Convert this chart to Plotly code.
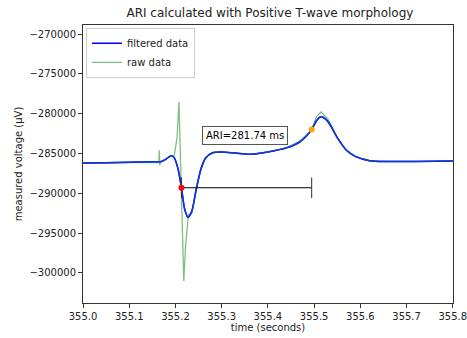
import plotly.graph_objects as go

# Filtered signal samples (time in s, voltage in µV)
filt_t = [355.00, 355.05, 355.10, 355.15, 355.17, 355.18, 355.19, 355.197, 355.205,
          355.213, 355.22, 355.227, 355.235, 355.245, 355.255, 355.265, 355.28, 355.30,
          355.33, 355.36, 355.40, 355.44, 355.47, 355.4947, 355.505, 355.515, 355.53,
          355.55, 355.57, 355.59, 355.62, 355.66, 355.72, 355.80]
filt_v = [-286200, -286150, -286100, -286050, -286000, -285700, -285300, -285500, -286800,
          -289300, -292000, -293000, -292300, -289500, -287000, -285600, -284900, -284800,
          -284950, -285100, -284800, -284300, -283500, -282000, -280900, -280400, -281000,
          -283000, -284600, -285400, -285900, -286000, -286000, -285950]

# Raw signal samples, including stimulus artifact and depolarisation spike
raw_t = [355.00, 355.05, 355.10, 355.15, 355.164, 355.165, 355.166, 355.167, 355.17,
         355.18, 355.19, 355.197, 355.2035, 355.2076, 355.212, 355.218, 355.222,
         355.228, 355.235, 355.245, 355.255, 355.265, 355.28, 355.30, 355.33, 355.36,
         355.40, 355.44, 355.47, 355.4947, 355.505, 355.515, 355.53, 355.55, 355.57,
         355.59, 355.62, 355.66, 355.72, 355.80]
raw_v = [-286200, -286150, -286100, -286050, -286100, -284600, -286500, -286200, -286000,
         -285700, -285300, -285400, -283000, -278500, -288000, -301000, -296500,
         -292700, -292600, -289300, -286800, -285500, -284900, -284800, -284950, -285100,
         -284800, -284300, -283400, -282000, -280400, -279800, -280700, -283000, -284600,
         -285400, -285900, -286000, -286000, -285950]

# Activation / repolarisation markers and the ARI interval
act_t, act_v = 355.213, -289300
rep_t, rep_v = 355.4947, -282000
ari_ms = 281.74
cap_half = 1300

fig = go.Figure()
fig.add_trace(go.Scatter(x=filt_t, y=filt_v, mode="lines", name="filtered data",
                         line=dict(color="#0000ff", width=1.5, shape="spline", smoothing=0.8)))
fig.add_trace(go.Scatter(x=raw_t, y=raw_v, mode="lines", name="raw data",
                         line=dict(color="rgba(0,128,0,0.5)", width=1.3)))
# Re-draw filtered on top so it sits above the raw trace
fig.add_trace(go.Scatter(x=filt_t, y=filt_v, mode="lines", showlegend=False, hoverinfo="skip",
                         line=dict(color="rgba(20,50,230,0.85)", width=1.5, shape="spline", smoothing=0.8)))

# ARI bar with end caps
fig.add_trace(go.Scatter(x=[act_t, rep_t], y=[act_v, act_v], mode="lines", showlegend=False,
                         line=dict(color="black", width=1)))
for t in (act_t, rep_t):
    fig.add_trace(go.Scatter(x=[t, t], y=[act_v - cap_half, act_v + cap_half], mode="lines",
                             showlegend=False, line=dict(color="#333333", width=1)))

fig.add_trace(go.Scatter(x=[act_t], y=[act_v], mode="markers", showlegend=False,
                         marker=dict(color="red", size=6)))
fig.add_trace(go.Scatter(x=[rep_t], y=[rep_v], mode="markers", showlegend=False,
                         marker=dict(color="orange", size=6)))

fig.add_annotation(x=355.35, y=-282700, text=f"ARI={ari_ms:.2f} ms", showarrow=False,
                   font=dict(size=10, color="black", family="DejaVu Sans"),
                   bordercolor="#555555", borderwidth=1, borderpad=3, bgcolor="white")

tickvals = [-270000, -275000, -280000, -285000, -290000, -295000, -300000]
ticktext = ["\u2212" + str(abs(v)) for v in tickvals]
xticks = [355.0, 355.1, 355.2, 355.3, 355.4, 355.5, 355.6, 355.7, 355.8]

fig.update_layout(
    width=467, height=338,
    margin=dict(l=83, r=14, t=25, b=35),
    paper_bgcolor="white", plot_bgcolor="white",
    font=dict(family="DejaVu Sans", size=10, color="#222222"),
    title=dict(text="ARI calculated with Positive T-wave morphology", x=0.578, xanchor="center",
               y=0.962, yanchor="middle", font=dict(size=12, color="#222222")),
    legend=dict(x=0.008, y=0.99, xanchor="left", yanchor="top",
                bgcolor="rgba(255,255,255,0.8)", bordercolor="#cccccc", borderwidth=1,
                font=dict(size=10), tracegroupgap=0, itemwidth=30),
    showlegend=True,
)
fig.update_xaxes(range=[355.0, 355.8004], tickvals=xticks, ticktext=[f"{v:.1f}" for v in xticks],
                 ticklabeloverflow="allow", automargin=False,
                 showgrid=False, zeroline=False, showline=True, linecolor="#333333", linewidth=1,
                 mirror=True, ticks="outside", ticklen=4, tickcolor="#333333",
                 title=dict(text="time (seconds)", standoff=2, font=dict(size=10)))
fig.update_yaxes(range=[-303770, -268870], tickvals=tickvals, ticktext=ticktext,
                 automargin=False,
                 showgrid=False, zeroline=False, showline=True, linecolor="#333333", linewidth=1,
                 mirror=True, ticks="outside", ticklen=4, tickcolor="#333333",
                 title=dict(text="measured voltage (\u03bcV)", standoff=4, font=dict(size=10)))

fig.write_html("out.html")
